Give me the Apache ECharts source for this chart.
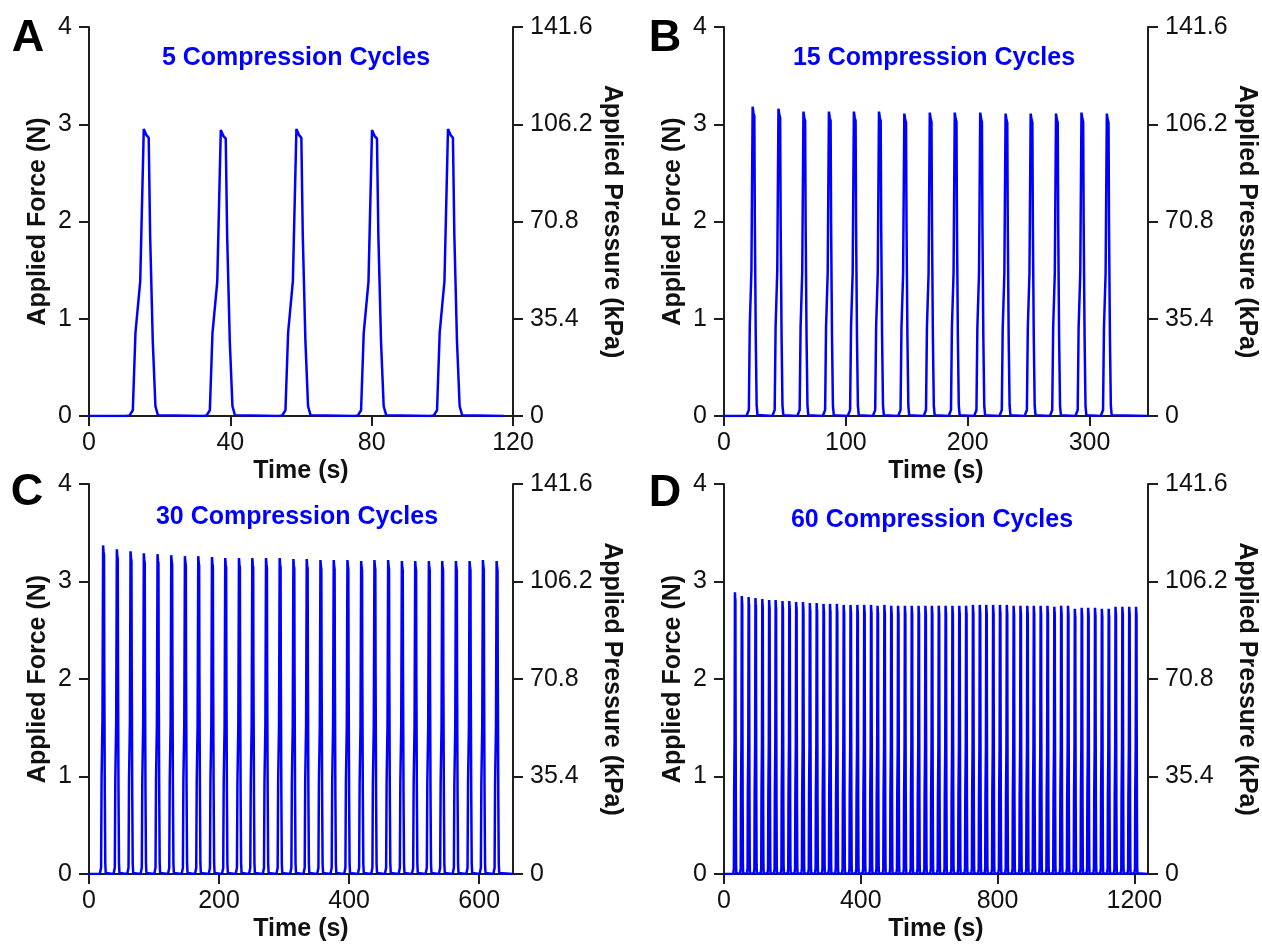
<!DOCTYPE html>
<html>
<head>
<meta charset="utf-8">
<script src="https://cdn.jsdelivr.net/npm/echarts@6/dist/echarts.min.js"></script>
<style>
  html, body { margin: 0; padding: 0; background: #fff; }
  #Charts { width: 1262px; height: 945px; }
</style>
</head>
<body>
<div id="Charts"></div>
<script>
// one compression pulse: time from peak (s) and fraction of peak force
const pulseDt = [-5.0, -4.0, -3.1, -2.35, -1.0, 0, 0.7, 1.4, 1.8, 2.55, 3.3, 4.0, 4.4]
const pulseFrac = [0, 0.002, 0.02, 0.29, 0.47, 1, 0.98, 0.97, 0.63, 0.26, 0.034, 0.003, 0]

// A - 5 cycles
const peakTimesA = [15.5, 37.3, 58.7, 80.1, 101.6]
const peakForceA = [2.95, 2.94, 2.95, 2.94, 2.95]
// B - 15 cycles
const peakTimesB = [23.5, 44.7, 65.2, 86.1, 106.6, 127.2, 148.0, 168.9, 189.4, 210.3, 231.1, 251.7, 272.5, 293.4, 314.2]
const peakForceB = [3.18, 3.16, 3.13, 3.13, 3.13, 3.13, 3.11, 3.12, 3.12, 3.12, 3.11, 3.11, 3.11, 3.12, 3.11]
// C - 30 cycles
const peakTimesC = [21.7, 42.8, 63.9, 84.3, 105.4, 126.5, 147.5, 168.0, 189.1, 209.5, 230.6, 251.1, 272.2, 293.2, 314.3,
  334.8, 355.9, 376.3, 397.4, 418.5, 438.9, 460.0, 481.1, 501.6, 522.6, 543.1, 564.2, 585.2, 605.7, 626.8]
const peakForceC = [3.37, 3.33, 3.31, 3.29, 3.28, 3.27, 3.26, 3.26, 3.25, 3.24, 3.24, 3.24, 3.24, 3.24, 3.23,
  3.23, 3.22, 3.22, 3.22, 3.21, 3.22, 3.22, 3.21, 3.21, 3.21, 3.21, 3.21, 3.21, 3.22, 3.21]
// D - 60 cycles
const peakTimesD = [32, 52, 72, 92, 112, 132, 151, 171, 191, 211, 231, 251, 271, 291, 310,
  330, 350, 370, 390, 410, 430, 449, 469, 489, 509, 529, 549, 569, 589, 608,
  628, 648, 668, 688, 708, 728, 748, 767, 787, 807, 827, 847, 867, 887, 906,
  926, 946, 966, 986, 1006, 1026, 1046, 1065, 1085, 1105, 1125, 1145, 1165, 1185, 1205]
const peakForceD = [2.89, 2.85, 2.84, 2.83, 2.82, 2.81, 2.81, 2.80, 2.80, 2.79, 2.79, 2.78, 2.78, 2.77, 2.77,
  2.77, 2.76, 2.76, 2.76, 2.76, 2.76, 2.75, 2.76, 2.75, 2.75, 2.75, 2.75, 2.75, 2.75, 2.75,
  2.75, 2.75, 2.75, 2.75, 2.75, 2.76, 2.76, 2.76, 2.76, 2.76, 2.76, 2.75, 2.75, 2.75, 2.75,
  2.75, 2.75, 2.74, 2.75, 2.75, 2.72, 2.73, 2.73, 2.73, 2.72, 2.72, 2.74, 2.74, 2.74, 2.74]

const timeEnd = [117.5, 348, 652, 1240]
const timeMax = [120, 348, 652, 1240]
const timeTicks = [[0, 40, 80, 120], [0, 100, 200, 300], [0, 200, 400, 600], [0, 400, 800, 1200]]
const forceTicks = [0, 1, 2, 3, 4]
const pressureTicks = [0, 35.4, 70.8, 106.2, 141.6]
const panelLetters = ['A', 'B', 'C', 'D']
const panelTitles = ['5 Compression Cycles', '15 Compression Cycles', '30 Compression Cycles', '60 Compression Cycles']

const FONT = "'Liberation Sans', Arial, sans-serif"
const BLUE = '#0000ff'
const AXIS = '#1e1e1e'

const buildTrace = function (times, forces, end) {
  let pts = [[0, 0]]
  times.forEach((t, i) => {
    pulseDt.forEach((dt, j) => {
      pts.push([+(t + dt).toFixed(2), +(forces[i] * pulseFrac[j]).toFixed(3)])
    })
  })
  pts.push([end, 0])
  return pts
}

const traces = [
  buildTrace(peakTimesA, peakForceA, timeEnd[0]),
  buildTrace(peakTimesB, peakForceB, timeEnd[1]),
  buildTrace(peakTimesC, peakForceC, timeEnd[2]),
  buildTrace(peakTimesD, peakForceD, timeEnd[3]),
]

const grids = [
  {left: 89, top: 27, width: 424, height: 389},
  {left: 724, top: 27, width: 424, height: 389},
  {left: 89, top: 484, width: 424, height: 390},
  {left: 724, top: 484, width: 424, height: 390},
]
const letterPos = [[28, 39], [665, 39], [27, 493], [665, 494]]
const titlePos = [[296, 58], [934, 58], [297, 517], [932, 520]]

const tickLabel = {color: '#111', fontSize: 25, fontFamily: FONT}
const nameStyle = {color: '#111', fontSize: 25, fontWeight: 'bold', fontFamily: FONT}
const axisLine = {show: true, lineStyle: {color: AXIS, width: 2}}
const axisTick = {show: true, inside: false, length: 10, lineStyle: {color: AXIS, width: 2}}

let xAxis = [], yAxis = [], series = [], graphic = []
grids.forEach((g, i) => {
  xAxis.push({
    type: 'value', gridIndex: i, min: 0, max: timeMax[i],
    name: 'Time (s)', nameLocation: 'middle', nameGap: 43, nameTextStyle: nameStyle,
    axisLine: axisLine,
    axisTick: Object.assign({}, axisTick, {customValues: timeTicks[i]}),
    axisLabel: Object.assign({}, tickLabel, {margin: 15, customValues: timeTicks[i], formatter: (v) => String(v)}),
    splitLine: {show: false},
  })
  yAxis.push({
    type: 'value', gridIndex: i, position: 'left', min: 0, max: 4, interval: 1,
    name: 'Applied Force (N)', nameLocation: 'middle', nameRotate: 90, nameGap: 38, nameTextStyle: nameStyle,
    axisLine: axisLine, axisTick: axisTick,
    axisLabel: Object.assign({}, tickLabel, {margin: 17, customValues: forceTicks}),
    splitLine: {show: false},
  })
  yAxis.push({
    type: 'value', gridIndex: i, position: 'right', min: 0, max: 141.6, interval: 35.4,
    name: 'Applied Pressure (kPa)', nameLocation: 'middle', nameRotate: -90, nameGap: 86, nameTextStyle: nameStyle,
    axisLine: axisLine, axisTick: Object.assign({}, axisTick, {customValues: pressureTicks}),
    axisLabel: Object.assign({}, tickLabel, {
      margin: 17, customValues: pressureTicks,
      formatter: (v) => v === 0 ? '0' : v.toFixed(1)
    }),
    splitLine: {show: false},
  })
  series.push({
    name: panelTitles[i],
    type: 'line',
    xAxisIndex: i,
    yAxisIndex: i * 2,
    data: traces[i],
    showSymbol: false,
    symbol: 'none',
    lineStyle: {color: BLUE, width: 2.5},
    z: 3,
  })
  graphic.push({
    type: 'text', x: letterPos[i][0], y: letterPos[i][1],
    style: {text: panelLetters[i], fill: '#000', font: 'bold 45px ' + FONT, align: 'center', verticalAlign: 'middle'}
  })
  graphic.push({
    type: 'text', x: titlePos[i][0], y: titlePos[i][1],
    style: {text: panelTitles[i], fill: BLUE, font: 'bold 25px ' + FONT, align: 'center', verticalAlign: 'middle'}
  })
})

let chart = echarts.init(document.getElementById('Charts'))
let option = {
  animation: false,
  backgroundColor: '#fff',
  grid: grids.map(g => Object.assign({outerBoundsMode: 'none', containLabel: false}, g)),
  xAxis: xAxis,
  yAxis: yAxis,
  series: series,
  graphic: graphic,
}
chart.setOption(option)
</script>
</body>
</html>
